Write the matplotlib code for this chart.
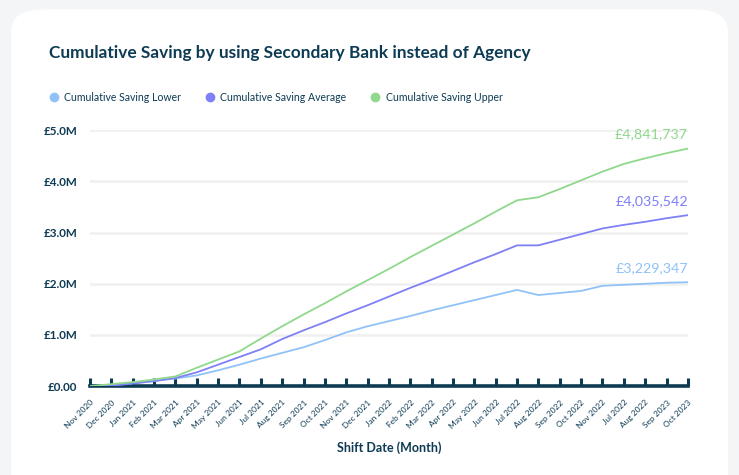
import numpy as np
import matplotlib.pyplot as plt
from matplotlib.patches import FancyBboxPatch
from matplotlib.ticker import FuncFormatter

plt.rcParams['font.family'] = ['Lato', 'DejaVu Sans']

months = ['Nov 2020', 'Dec 2020', 'Jan 2021', 'Feb 2021', 'Mar 2021', 'Apr 2021',
          'May 2021', 'Jun 2021', 'Jul 2021', 'Aug 2021', 'Sep 2021', 'Oct 2021',
          'Nov 2021', 'Dec 2021', 'Jan 2022', 'Feb 2022', 'Mar 2022', 'Apr 2022',
          'May 2022', 'Jun 2022', 'Jul 2022', 'Aug 2022', 'Sep 2022', 'Oct 2022',
          'Nov 2022', 'Jul 2022', 'Aug 2022', 'Sep 2023', 'Oct 2023']

# cumulative savings in £M
lower = [0.0, 0.02, 0.06, 0.10, 0.15, 0.21, 0.31, 0.42, 0.54, 0.65, 0.76, 0.90,
         1.05, 1.17, 1.27, 1.37, 1.48, 1.58, 1.68, 1.78, 1.88, 1.78, 1.82, 1.86,
         1.96, 1.98, 2.00, 2.02, 2.03]
average = [0.0, 0.01, 0.05, 0.10, 0.16, 0.27, 0.42, 0.57, 0.72, 0.92, 1.09, 1.25,
           1.42, 1.58, 1.75, 1.92, 2.08, 2.25, 2.42, 2.58, 2.75, 2.75, 2.86, 2.97,
           3.08, 3.15, 3.21, 3.28, 3.34]
upper = [0.0, 0.04, 0.08, 0.13, 0.19, 0.36, 0.52, 0.68, 0.93, 1.17, 1.40, 1.62,
         1.85, 2.07, 2.29, 2.52, 2.74, 2.96, 3.18, 3.41, 3.63, 3.69, 3.85, 4.02,
         4.19, 4.34, 4.45, 4.55, 4.64]

series_names = ['Cumulative Saving Lower', 'Cumulative Saving Average', 'Cumulative Saving Upper']
end_labels = ['£3,229,347', '£4,035,542', '£4,841,737']
colors = ['#90c2f8', '#7f80f6', '#8fd88c']
dark = '#0d3b54'

fig = plt.figure(figsize=(7.39, 4.75), dpi=100)
fig.patch.set_facecolor('#f4f5f7')
card = FancyBboxPatch((0.015, -0.05), 0.97, 1.03, boxstyle='round,pad=0,rounding_size=0.045',
                      transform=fig.transFigure, facecolor='white', edgecolor='none', zorder=-10)
fig.patches.append(card)

ax = fig.add_axes([0.1218, 0.187, 0.809, 0.539])
ax.set_facecolor('none')

x = np.arange(len(months))
for vals, col, lab, name in zip([lower, average, upper], colors, end_labels, series_names):
    ax.plot(x, np.array(vals) * 1e6, color=col, lw=1.3, zorder=3, label=name)
    ax.annotate(lab, (x[-1], vals[-1] * 1e6), xytext=(0, 6), textcoords='offset points',
                ha='right', va='bottom', color=col, fontsize=10.3)

ax.set_xlim(0, len(months) - 1)
ax.set_ylim(0, 5e6)
ax.set_yticks(np.arange(0, 5.01e6, 1e6))
ax.yaxis.set_major_formatter(FuncFormatter(lambda v, p: '£0.00' if v == 0 else f'£{v/1e6:.1f}M'))
ax.grid(axis='y', color='#f0f0f0', lw=1.8)
ax.set_axisbelow(True)

ax.set_xticks(x)
ax.set_xticklabels(months, rotation=45, ha='right', rotation_mode='anchor', fontsize=6, color=dark)
ax.tick_params(axis='x', direction='in', length=6, width=2.2, color=dark, pad=9)
ax.tick_params(axis='y', length=0, pad=9, labelsize=8.4, labelcolor=dark)
for t in ax.get_yticklabels():
    t.set_fontweight('bold')

for s in ['top', 'right', 'left']:
    ax.spines[s].set_visible(False)
ax.spines['bottom'].set_color(dark)
ax.spines['bottom'].set_linewidth(2.6)

ax.set_xlabel('Shift Date (Month)', fontsize=9, color=dark, fontweight='bold', labelpad=8)

fig.text(0.066, 0.888, 'Cumulative Saving by using Secondary Bank instead of Agency',
         fontsize=12.4, color=dark, fontweight='bold', va='center')

handles = [plt.Line2D([], [], marker='o', ls='', color=c, markersize=6) for c in colors]
fig.legend(handles, series_names, loc='center left', bbox_to_anchor=(0.067, 0.795), ncol=3,
           frameon=False, fontsize=7.6, handlelength=0.8, handletextpad=0.6, columnspacing=2.3,
           labelcolor=dark, borderpad=0, borderaxespad=0)

fig.savefig('out.png', dpi=100, facecolor=fig.get_facecolor())
